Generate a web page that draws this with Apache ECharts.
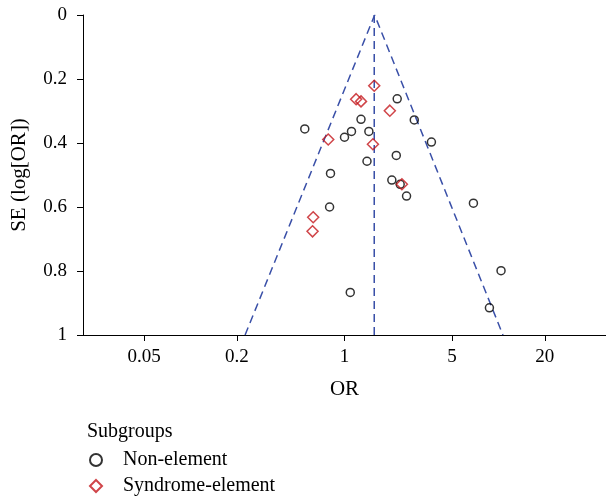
<!DOCTYPE html>
<html>
<head>
<meta charset="utf-8">
<script src="https://cdn.jsdelivr.net/npm/echarts@6/dist/echarts.min.js"></script>
<style>
html,body{margin:0;padding:0;background:#fff;}
#chart{width:606px;height:498px;}
</style>
</head>
<body>
<div id="chart"></div>
<script>
// Data
var nonElementOR = [2.20, 2.84, 1.28, 0.552, 1.11, 1.00, 1.44, 3.67, 2.17, 1.40, 0.811, 2.03, 2.30, 2.53, 0.80, 6.88, 10.4, 8.74, 1.09];
var nonElementSE = [0.262, 0.328, 0.326, 0.356, 0.364, 0.382, 0.364, 0.397, 0.439, 0.457, 0.495, 0.516, 0.529, 0.566, 0.600, 0.588, 0.799, 0.915, 0.867];
var syndromeOR = [1.56, 1.19, 1.28, 1.97, 0.784, 1.53, 2.36, 0.626, 0.620];
var syndromeSE = [0.221, 0.263, 0.270, 0.299, 0.389, 0.404, 0.529, 0.632, 0.676];
var funnelOR = [0.226, 1.57, 10.7];
var funnelSE = [1, 0, 1];
var pooledOR = [1.56, 1.56];
var pooledSE = [0, 1];
var xTicks = [0.05, 0.2, 1, 5, 20];
var seriesNames = ['Non-element', 'Syndrome-element'];

function pairs(xs, ys) { return xs.map(function (v, i) { return [v, ys[i]]; }); }

var FONT = 'Liberation Serif';
var chart = echarts.init(document.getElementById('chart'), null, {renderer: 'canvas'});
chart.setOption({
  animation: false,
  backgroundColor: '#fff',
  grid: {left: 83, right: 0, top: 15, bottom: 163, containLabel: false},
  xAxis: {
    type: 'log', logBase: 10, min: 0.02, max: 50,
    name: 'OR', nameLocation: 'middle', nameGap: 44,
    nameTextStyle: {fontFamily: FONT, fontSize: 21, color: '#000'},
    axisLine: {show: true, onZero: false, lineStyle: {color: '#000', width: 1}},
    axisTick: {show: true, length: 6, customValues: xTicks, lineStyle: {color: '#000'}},
    minorTick: {show: false},
    axisLabel: {customValues: xTicks, margin: 13, fontFamily: FONT, fontSize: 19, color: '#000',
      formatter: function (v) { return String(+(+v).toPrecision(3)); }},
    splitLine: {show: false}
  },
  yAxis: {
    type: 'value', inverse: true, min: 0, max: 1, interval: 0.2,
    name: 'SE (log[OR])', nameLocation: 'middle', nameGap: 53, nameRotate: 90,
    nameTextStyle: {fontFamily: FONT, fontSize: 21, color: '#000'},
    axisLine: {show: true, lineStyle: {color: '#000', width: 1}},
    axisTick: {show: true, length: 6, lineStyle: {color: '#000'}},
    axisLabel: {margin: 16, fontFamily: FONT, fontSize: 19, color: '#000'},
    splitLine: {show: false}
  },
  legend: {
    orient: 'vertical', left: 89, top: 449, padding: 0, itemWidth: 12, itemHeight: 12, itemGap: 4,
    data: seriesNames,
    textStyle: {fontFamily: FONT, fontSize: 20, color: '#000', lineHeight: 22, padding: [0, 0, 0, 16]}
  },
  graphic: [{
    type: 'text', left: 87, top: 422,
    style: {text: 'Subgroups', font: '20px "Liberation Serif"', fill: '#000'}
  }],
  series: [
    {
      type: 'line', data: pairs(funnelOR, funnelSE), symbol: 'none', silent: true,
      lineStyle: {color: '#3a50a8', width: 1.5, type: [8, 5]}, z: 1
    },
    {
      type: 'line', data: pairs(pooledOR, pooledSE), symbol: 'none', silent: true,
      lineStyle: {color: '#3a50a8', width: 1.5, type: [8, 5]}, z: 1
    },
    {
      name: seriesNames[0], type: 'scatter', data: pairs(nonElementOR, nonElementSE),
      symbol: 'circle', symbolSize: 8,
      itemStyle: {color: 'rgba(0,0,0,0)', borderColor: '#000', borderWidth: 1.5}, z: 3
    },
    {
      name: seriesNames[1], type: 'scatter', data: pairs(syndromeOR, syndromeSE),
      symbol: 'diamond', symbolSize: 11,
      itemStyle: {color: 'rgba(0,0,0,0)', borderColor: '#c4161c', borderWidth: 1.5}, z: 4
    }
  ]
});
</script>
</body>
</html>
